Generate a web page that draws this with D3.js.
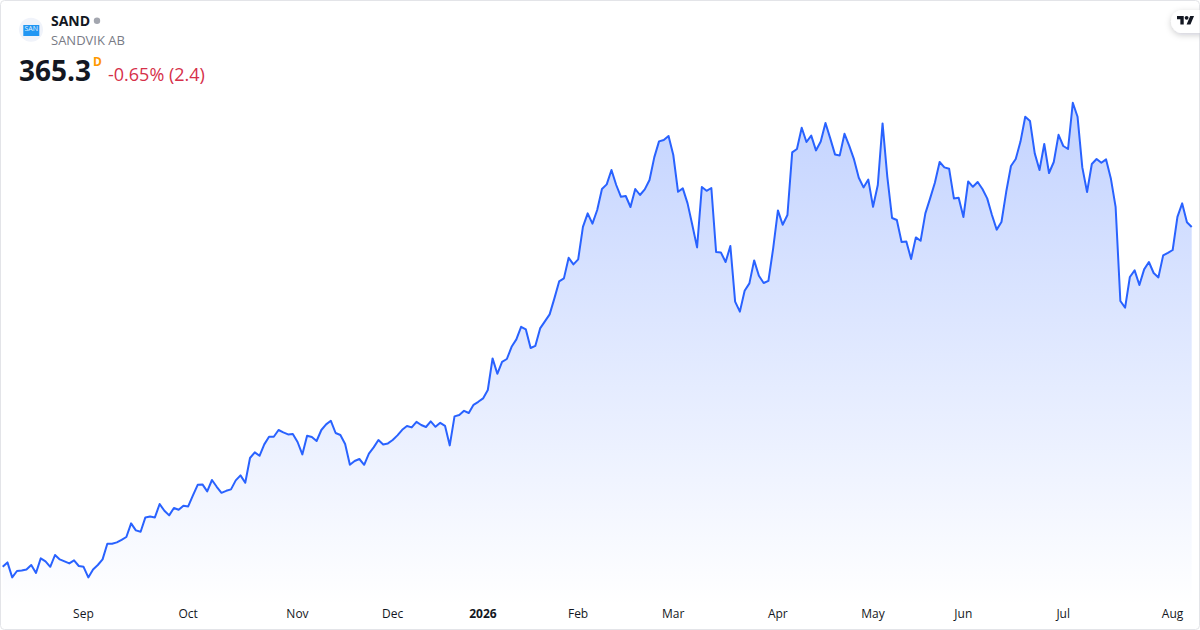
<!DOCTYPE html>
<html>
<head>
<meta charset="utf-8">
<script src="https://cdn.jsdelivr.net/npm/d3@7"></script>
<style>
html,body{margin:0;padding:0;background:#fff;width:1200px;height:630px;overflow:hidden}
svg{display:block}
text{font-family:"Open Sans",sans-serif}
</style>
</head>
<body>
<svg id="chart" width="1200" height="630"></svg>
<script>
const closes = [
195.4,197.6,190.1,193.3,193.6,194.1,196.3,192.3,199.6,198.1,
195.4,201.3,199.1,198.1,197.1,198.6,195.8,195.4,190.1,194.1,
196.3,199.1,206.9,206.9,207.6,208.9,210.3,217.1,213.6,212.9,
220.1,220.6,220.1,226.8,223.4,221.1,224.8,223.9,225.9,225.6,
231.1,236.4,236.6,233.1,238.8,235.4,232.4,233.4,234.1,238.6,
241.1,237.4,249.8,252.6,250.9,256.6,260.4,260.4,263.8,262.6,
261.6,261.8,257.8,251.6,260.9,260.3,258.3,263.8,266.6,268.4,
262.3,261.3,256.8,246.4,248.3,249.3,246.4,252.0,255.1,258.8,
256.6,257.1,258.8,261.1,263.9,265.8,265.1,267.9,266.3,265.3,
268.1,265.4,267.4,265.9,256.1,270.6,271.3,273.4,272.3,276.4,
277.9,279.6,283.8,299.6,291.9,297.9,299.3,305.4,309.1,315.4,
314.1,304.8,305.9,314.6,318.1,321.6,329.6,338.1,339.6,349.9,
346.6,349.1,365.4,372.1,367.0,373.8,384.3,386.6,393.8,386.3,
380.4,380.8,375.3,384.3,381.3,384.1,388.8,400.1,408.1,408.8,
410.8,401.3,382.9,384.6,377.1,366.3,355.1,385.3,383.4,384.8,
352.8,352.6,347.8,355.8,328.0,323.0,333.4,337.1,348.6,340.9,
337.3,338.4,354.6,373.6,366.4,371.3,402.6,404.3,414.9,407.8,
411.0,403.6,408.0,417.3,409.6,401.6,401.1,411.9,405.9,399.1,
389.9,385.1,389.0,375.4,386.3,417.1,390.4,369.8,368.8,357.8,
358.1,349.3,360.1,358.4,372.1,379.6,387.4,397.8,395.1,394.4,
379.6,379.9,370.3,388.1,385.4,387.8,384.3,379.6,371.3,364.0,
367.8,382.9,395.8,399.3,408.0,420.4,418.3,402.1,393.8,406.8,
392.3,397.8,411.4,405.8,404.3,427.4,420.4,395.1,382.8,396.8,
399.3,397.4,399.1,389.6,375.4,328.3,325.0,340.3,343.6,336.3,
344.1,347.8,342.3,340.1,351.1,352.4,353.8,370.4,377.1,367.7,365.3
];
const tickLabels = ["Sep","Oct","Nov","Dec","2026","Feb","Mar","Apr","May","Jun","Jul","Aug"];
const tickIndexes = [17,39,62,82,101,121,141,163,183,202,223,246];
const symbol = "SAND";
const company = "SANDVIK AB";
const lastPrice = "365.3";
const interval = "D";
const changeText = "-0.65% (2.4)";

const svg = d3.select("#chart");
const x = d3.scaleLinear().domain([0, closes.length - 1]).range([2.7, 1191.7]);
const y = d3.scaleLinear().domain([178.8, 478.8]).range([600, 0]);

const defs = svg.append("defs");
const grad = defs.append("linearGradient").attr("id","fill")
  .attr("gradientUnits","userSpaceOnUse").attr("x1",0).attr("x2",0).attr("y1",y(d3.max(closes))).attr("y2",606);
grad.append("stop").attr("offset",0).attr("stop-color","#2962ff").attr("stop-opacity",0.28);
grad.append("stop").attr("offset",1).attr("stop-color","#2962ff").attr("stop-opacity",0);
const sh = defs.append("filter").attr("id","sh").attr("x","-50%").attr("y","-50%").attr("width","200%").attr("height","200%");
sh.append("feDropShadow").attr("dx",0).attr("dy",2).attr("stdDeviation",3).attr("flood-color","#131722").attr("flood-opacity",0.2);
defs.append("clipPath").attr("id","card").append("rect").attr("x",0.5).attr("y",0.5).attr("width",1199).attr("height",629).attr("rx",4);

const plot = svg.append("g").attr("clip-path","url(#card)");
plot.append("path").datum(closes)
  .attr("d", d3.area().x((d,i)=>x(i)).y0(606).y1(d=>y(d)))
  .attr("fill","url(#fill)");
plot.append("path").datum(closes)
  .attr("d", d3.line().x((d,i)=>x(i)).y(d=>y(d)))
  .attr("fill","none").attr("stroke","#2962ff").attr("stroke-width",2).attr("stroke-linejoin","round");

const axis = d3.axisBottom(x).tickValues(tickIndexes).tickSize(0).tickPadding(0)
  .tickFormat((d,i)=>tickLabels[i]);
const ag = svg.append("g").attr("transform","translate(-0.6,609)").call(axis);
ag.select(".domain").remove();
ag.selectAll("text").attr("font-size",12).attr("fill","#131722").attr("dy","0.71em")
  .attr("font-weight",(d,i)=>tickLabels[i]==="2026"?700:400)
  .style("font-family",'"Open Sans",sans-serif');

// header
svg.append("circle").attr("cx",31).attr("cy",29.7).attr("r",12).attr("fill","#f0f3fa");
svg.append("rect").attr("x",23.3).attr("y",25).attr("width",16).attr("height",11).attr("fill","#2196f3");
svg.append("text").attr("x",31.3).attr("y",31).attr("text-anchor","middle").attr("font-size",7).attr("fill","#e3f2fd").text("SAN");
svg.append("text").attr("x",51).attr("y",26).attr("font-size",14).attr("font-weight",700).attr("fill","#131722").text(symbol);
svg.append("circle").attr("cx",97).attr("cy",20.7).attr("r",3.2).attr("fill","#a3a6af");
svg.append("text").attr("x",51).attr("y",45).attr("font-size",13).attr("fill","#787b86").text(company);
svg.append("text").attr("x",19).attr("y",81).attr("font-size",28).attr("font-weight",700).attr("fill","#131722").text(lastPrice);
svg.append("text").attr("x",93).attr("y",66).attr("font-size",12).attr("font-weight",700).attr("fill","#ff9800").text(interval);
svg.append("text").attr("x",108).attr("y",81).attr("font-size",18).attr("fill","#d6304a").text(changeText);

// border + logo
svg.append("rect").attr("x",0.5).attr("y",0.5).attr("width",1199).attr("height",629).attr("rx",4)
  .attr("fill","none").attr("stroke","#e3e4e8");
svg.append("g").attr("clip-path","url(#card)").append("rect").attr("x",1171).attr("y",10).attr("width",50).attr("height",23).attr("rx",11.5)
  .attr("fill","#fff").attr("filter","url(#sh)");
const logo = svg.append("g").attr("transform","translate(1177,14) scale(0.48)").attr("fill","#131722");
logo.append("path").attr("d","M14 22H7V11H0V4h14v18zM28 22h-8l7.5-18h8L28 22z");
logo.append("circle").attr("cx",20).attr("cy",8).attr("r",4);
</script>
</body>
</html>
